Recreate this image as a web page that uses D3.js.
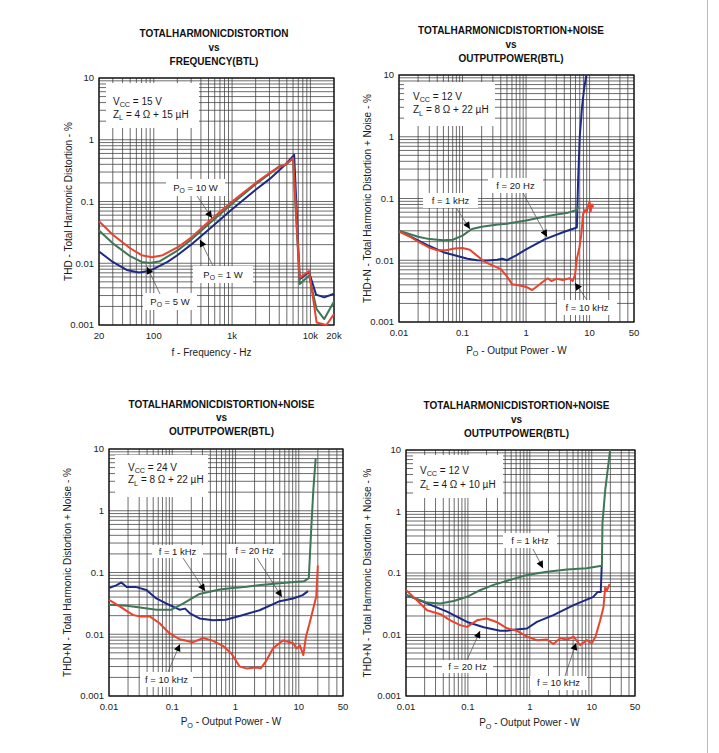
<!DOCTYPE html>
<html>
<head>
<meta charset="utf-8">
<script src="https://cdn.jsdelivr.net/npm/d3@7"></script>
<style>
  body { margin: 0; background: #fff; }
  svg { font-family: "Liberation Sans", Arial, sans-serif; }
</style>
</head>
<body>
<svg id="chart" width="719" height="753"></svg>
<script>
// tick values + labels
var freqTicks = [20, 100, 1000, 10000, 20000];
var freqTickLabels = ["20", "100", "1k", "10k", "20k"];
var powerTicks = [0.01, 0.1, 1, 10, 50];
var powerTickLabels = ["0.01", "0.1", "1", "10", "50"];
var thdTicks = [10, 1, 0.1, 0.01, 0.001];
var thdTickLabels = ["10", "1", "0.1", "0.01", "0.001"];

// panel 1 - THD vs frequency, [Hz, %]
var freqBlue = [[20,0.0155],[30,0.0105],[45,0.0078],[65,0.0071],[85,0.0075],[100,0.0081],[150,0.0105],[200,0.0135],[300,0.02],[500,0.035],[1000,0.075],[2000,0.155],[3000,0.23],[4000,0.32],[5000,0.42],[6200,0.57],[7300,0.0055],[9600,0.0072],[11800,0.0031],[15000,0.0028],[20000,0.0032]];
var freqGreen = [[20,0.034],[30,0.021],[50,0.013],[70,0.0105],[90,0.0101],[120,0.0108],[200,0.016],[300,0.024],[500,0.043],[1000,0.092],[2000,0.19],[3000,0.28],[4000,0.37],[4800,0.39],[6000,0.5],[7300,0.0046],[9600,0.0063],[12000,0.0018],[15000,0.00125],[20000,0.0024]];
var freqRed = [[20,0.048],[30,0.029],[50,0.0175],[70,0.0135],[95,0.0125],[130,0.0135],[200,0.018],[300,0.026],[500,0.047],[1000,0.1],[2000,0.2],[3000,0.29],[4000,0.36],[4800,0.4],[6000,0.5],[7300,0.0058],[9600,0.0075],[12000,0.0011],[16000,0.001],[20000,0.0015]];

// panel 2 - THD+N vs power, Vcc 12 V, 8 ohm, [W, %]
var p2Green = [[0.01,0.030],[0.02,0.024],[0.03,0.022],[0.05,0.021],[0.07,0.0215],[0.1,0.025],[0.14,0.032],[0.2,0.035],[0.36,0.038],[0.5,0.039],[1,0.044],[2,0.051],[3,0.055],[4.6,0.059],[6.3,0.065],[6.6,0.075]];
var p2Blue = [[0.01,0.030],[0.02,0.021],[0.03,0.017],[0.05,0.0135],[0.08,0.0118],[0.12,0.0106],[0.17,0.0100],[0.25,0.0099],[0.35,0.0102],[0.42,0.0106],[0.5,0.0100],[0.7,0.012],[1,0.015],[2,0.022],[4,0.029],[6.3,0.034],[6.6,0.2],[7.0,1],[7.6,3],[8.2,6],[8.9,10]];
var p2Red = [[0.01,0.029],[0.015,0.024],[0.02,0.02],[0.03,0.016],[0.04,0.0145],[0.055,0.0145],[0.075,0.0155],[0.1,0.0158],[0.13,0.0148],[0.17,0.0118],[0.22,0.0095],[0.3,0.0082],[0.4,0.0072],[0.5,0.0055],[0.6,0.0041],[0.8,0.0039],[1.0,0.0037],[1.25,0.0033],[1.5,0.0038],[1.8,0.0044],[2.2,0.0051],[2.5,0.0046],[3,0.005],[3.8,0.0048],[4.8,0.0051],[5.4,0.0046],[5.9,0.0058],[6.3,0.0105],[6.9,0.016],[7.4,0.026],[7.9,0.056],[8.5,0.065],[9.0,0.06],[9.4,0.074],[10,0.088],[10.4,0.062],[10.9,0.08],[11.4,0.072]];

// panel 3 - THD+N vs power, Vcc 24 V, 8 ohm
var p3Blue = [[0.01,0.056],[0.013,0.062],[0.0157,0.069],[0.019,0.058],[0.027,0.058],[0.039,0.052],[0.056,0.038],[0.08,0.0315],[0.116,0.0264],[0.13,0.025],[0.16,0.026],[0.19,0.0218],[0.27,0.018],[0.44,0.0168],[0.7,0.0172],[1.16,0.0198],[2.4,0.0245],[5,0.0343],[8.1,0.038],[11.5,0.043],[14,0.05]];
var p3Green = [[0.01,0.03],[0.019,0.029],[0.031,0.027],[0.056,0.025],[0.097,0.025],[0.15,0.0315],[0.27,0.045],[0.56,0.053],[0.91,0.056],[1.5,0.059],[2.5,0.063],[5,0.067],[12,0.072],[14.4,0.081],[15.7,0.49],[17,2.2],[18.5,7.1]];
var p3Red = [[0.01,0.036],[0.015,0.028],[0.02,0.023],[0.024,0.0206],[0.031,0.0193],[0.044,0.0195],[0.063,0.0151],[0.09,0.0104],[0.13,0.0083],[0.21,0.0074],[0.31,0.0087],[0.44,0.0078],[0.63,0.0065],[0.86,0.0049],[1.16,0.003],[1.48,0.0028],[2.1,0.0029],[2.5,0.0028],[3.0,0.0036],[3.9,0.0059],[5.6,0.0079],[8.1,0.0072],[9.2,0.0059],[10.4,0.0066],[11.8,0.0046],[13,0.0092],[14.6,0.0142],[18.9,0.041],[20,0.13]];

// panel 4 - THD+N vs power, Vcc 12 V, 4 ohm
var p4Green = [[0.01,0.044],[0.0218,0.033],[0.036,0.032],[0.059,0.035],[0.097,0.041],[0.16,0.053],[0.26,0.064],[0.43,0.075],[0.9,0.093],[1.9,0.105],[4,0.114],[8.3,0.119],[13.7,0.13],[14.6,0.13],[14.9,0.64],[16.5,2.2],[19.8,10]];
var p4Blue = [[0.01,0.044],[0.0218,0.032],[0.046,0.0235],[0.097,0.016],[0.18,0.0131],[0.33,0.0115],[0.43,0.0115],[0.55,0.012],[0.9,0.0125],[1.3,0.016],[2.4,0.0207],[5.1,0.030],[10.6,0.041],[12.4,0.049],[14,0.049],[14.5,0.13]];
var p4Red = [[0.01,0.053],[0.015,0.036],[0.0218,0.0248],[0.036,0.0214],[0.052,0.017],[0.075,0.0142],[0.097,0.0133],[0.14,0.017],[0.2,0.0182],[0.29,0.016],[0.43,0.0126],[0.62,0.0115],[0.9,0.0092],[1.3,0.0081],[1.9,0.0083],[2.4,0.007],[3.1,0.0087],[4.0,0.0083],[5.1,0.0092],[6.5,0.0067],[8.3,0.0081],[10,0.0072],[11.5,0.0092],[13.7,0.017],[15.5,0.028],[16.5,0.059],[17.5,0.052],[18.6,0.059],[19.4,0.066]];

var BLUE = "#1d2a82", GREEN = "#3e7656", RED = "#e8432e";

var svg = d3.select("#chart");

svg.append("defs").append("marker")
  .attr("id", "head")
  .attr("viewBox", "0 0 10 10")
  .attr("refX", 10).attr("refY", 5)
  .attr("markerWidth", 8).attr("markerHeight", 7)
  .attr("markerUnits", "userSpaceOnUse")
  .attr("orient", "auto")
  .append("path").attr("d", "M0,0L10,5L0,10Z").attr("fill", "#000");

// page edge
svg.append("line").attr("x1", 707.5).attr("x2", 707.5).attr("y1", 0).attr("y2", 753)
  .attr("stroke", "#b8b8b8").attr("stroke-width", 1);

function logGrid(a, b) {
  var out = [];
  for (var e = Math.floor(Math.log10(a)); e <= Math.ceil(Math.log10(b)); e++) {
    for (var k = 1; k <= 9; k++) {
      var v = +(k * Math.pow(10, e)).toPrecision(6);
      if (v >= a * 0.9999 && v <= b * 1.0001) out.push(v);
    }
  }
  return out;
}

// text with subscripts: parts = ["plain", ["sub"], "plain"...]
function richText(g, x, y, parts, size, anchor) {
  var t = g.append("text").attr("x", x).attr("y", y)
    .attr("font-size", size).attr("fill", "#1a1a1a")
    .attr("text-anchor", anchor || "start");
  var shifted = false;
  parts.forEach(function(p) {
    if (Array.isArray(p)) {
      t.append("tspan").attr("dy", 2.5).attr("font-size", size * 0.72).text(p[0]);
      shifted = true;
    } else {
      var s = t.append("tspan").text(p);
      if (shifted) { s.attr("dy", -2.5); shifted = false; }
    }
  });
  return t;
}

var panels = [
  {
    x0: 99, x1: 334, y0: 78, y1: 325, xDomain: [20, 20000],
    xTicks: freqTicks, xLabels: freqTickLabels,
    title: ["TOTALHARMONICDISTORTION", "vs", "FREQUENCY(BTL)"], tx: 214, ty: [36.5, 50.5, 64.5],
    yTitle: "THD - Total Harmonic Distortion - %", yTitleX: 72, xTitle: ["f - Frequency - Hz"], xTitleY: 356, xTitleDx: -5,
    info: [["V", ["CC"], " = 15 V"], ["Z", ["L"], " = 4 \u03A9 + 15 \u00B5H"]], infoX: 113, infoY: [104.5, 117.5],
    infoBox: [106, 83, 199, 128],
    series: [[freqBlue, BLUE], [freqGreen, GREEN], [freqRed, RED]],
    notes: [
      { parts: ["P", ["O"], " = 10 W"], box: [166, 179, 225, 196], from: [197, 196], tip: [554, 0.054] },
      { parts: ["P", ["O"], " = 1 W"], box: [193, 266, 253, 283], from: [213, 266], tip: [389, 0.024] },
      { parts: ["P", ["O"], " = 5 W"], box: [143, 293, 197, 310], from: [160, 294], tip: [82, 0.0087] }
    ]
  },
  {
    x0: 399, x1: 634, y0: 75, y1: 322, xDomain: [0.01, 50],
    xTicks: powerTicks, xLabels: powerTickLabels,
    title: ["TOTALHARMONICDISTORTION+NOISE", "vs", "OUTPUTPOWER(BTL)"], tx: 511, ty: [33.5, 47.5, 61.5],
    yTitle: "THD+N - Total Harmonic Distortion + Noise - %", yTitleX: 371, xTitleY: 353.5, xTitleDx: 0,
    info: [["V", ["CC"], " = 12 V"], ["Z", ["L"], " = 8 \u03A9 + 22 \u00B5H"]], infoX: 413, infoY: [99.5, 113],
    infoBox: [404, 82, 495, 126],
    series: [[p2Blue, BLUE], [p2Green, GREEN], [p2Red, RED]],
    notes: [
      { parts: ["f = 1 kHz"], box: [423, 193, 478, 208], from: [457, 209], tip: [0.131, 0.032] },
      { parts: ["f = 20 Hz"], box: [488, 178, 543, 193], from: [523, 193], tip: [2.14, 0.0238] },
      { parts: ["f = 10 kHz"], box: [557, 300, 617, 315], from: [587, 300], tip: [5.9, 0.0043] }
    ]
  },
  {
    x0: 109, x1: 343, y0: 449, y1: 696, xDomain: [0.01, 50],
    xTicks: powerTicks, xLabels: powerTickLabels,
    title: ["TOTALHARMONICDISTORTION+NOISE", "vs", "OUTPUTPOWER(BTL)"], tx: 221.5, ty: [407.5, 421, 435],
    yTitle: "THD+N - Total Harmonic Distortion + Noise - %", yTitleX: 71, xTitleY: 725, xTitleDx: 5,
    info: [["V", ["CC"], " = 24 V"], ["Z", ["L"], " = 8 \u03A9 + 22 \u00B5H"]], infoX: 128, infoY: [470.5, 483],
    infoBox: [115, 455, 208, 497],
    series: [[p3Blue, BLUE], [p3Green, GREEN], [p3Red, RED]],
    notes: [
      { parts: ["f = 1 kHz"], box: [152, 545, 203, 558], from: [183, 558], tip: [0.33, 0.050] },
      { parts: ["f = 20 Hz"], box: [227, 544, 282, 558], from: [257, 558], tip: [5.4, 0.040] },
      { parts: ["f = 10 kHz"], box: [140, 672, 193, 687], from: [168, 672], tip: [0.132, 0.0069] }
    ]
  },
  {
    x0: 406, x1: 635, y0: 450, y1: 696, xDomain: [0.01, 50],
    xTicks: powerTicks, xLabels: powerTickLabels,
    title: ["TOTALHARMONICDISTORTION+NOISE", "vs", "OUTPUTPOWER(BTL)"], tx: 516.5, ty: [408.5, 422.5, 436.5],
    yTitle: "THD+N - Total Harmonic Distortion + Noise - %", yTitleX: 371, xTitleY: 726, xTitleDx: 9,
    info: [["V", ["CC"], " = 12 V"], ["Z", ["L"], " = 4 \u03A9 + 10 \u00B5H"]], infoX: 420, infoY: [473.5, 487.5],
    infoBox: [413, 455, 503, 498],
    series: [[p4Blue, BLUE], [p4Green, GREEN], [p4Red, RED]],
    notes: [
      { parts: ["f = 1 kHz"], box: [503, 533, 557, 548], from: [533, 549], tip: [1.63, 0.12] },
      { parts: ["f = 20 Hz"], box: [442, 660, 493, 673], from: [467, 660], tip: [0.157, 0.0114] },
      { parts: ["f = 10 kHz"], box: [530, 676, 587, 690], from: [565, 676], tip: [5.6, 0.0073] }
    ]
  }
];

panels.forEach(function(p) {
  var x = d3.scaleLog().domain(p.xDomain).range([p.x0, p.x1]);
  var y = d3.scaleLog().domain([0.001, 10]).range([p.y1, p.y0]);
  var g = svg.append("g");

  // title
  p.title.forEach(function(s, i) {
    g.append("text").attr("x", p.tx).attr("y", p.ty[i])
      .attr("text-anchor", "middle").attr("font-size", 10).attr("font-weight", "bold")
      .attr("fill", "#111").text(s);
  });

  // grid
  var grid = g.append("g").attr("stroke", "#3c3c3c").attr("stroke-width", 0.75);
  grid.selectAll(".vx").data(logGrid(p.xDomain[0], p.xDomain[1])).enter().append("line")
    .attr("x1", function(d) { return x(d); }).attr("x2", function(d) { return x(d); })
    .attr("y1", p.y0).attr("y2", p.y1);
  grid.selectAll(".hy").data(logGrid(0.001, 10)).enter().append("line")
    .attr("y1", function(d) { return y(d); }).attr("y2", function(d) { return y(d); })
    .attr("x1", p.x0).attr("x2", p.x1);

  // white boxes over grid
  var ib = p.infoBox;
  g.append("rect").attr("x", ib[0]).attr("y", ib[1]).attr("width", ib[2] - ib[0]).attr("height", ib[3] - ib[1]).attr("fill", "#fff");
  p.notes.forEach(function(n) {
    g.append("rect").attr("x", n.box[0]).attr("y", n.box[1])
      .attr("width", n.box[2] - n.box[0]).attr("height", n.box[3] - n.box[1]).attr("fill", "#fff");
  });

  // frame
  g.append("rect").attr("x", p.x0).attr("y", p.y0).attr("width", p.x1 - p.x0).attr("height", p.y1 - p.y0)
    .attr("fill", "none").attr("stroke", "#111").attr("stroke-width", 1.3);

  // curves
  var line = d3.line().x(function(d) { return x(d[0]); }).y(function(d) { return y(d[1]); });
  p.series.forEach(function(s) {
    g.append("path").datum(s[0]).attr("d", line)
      .attr("fill", "none").attr("stroke", s[1]).attr("stroke-width", 2)
      .attr("stroke-linejoin", "round");
  });

  // annotations
  p.notes.forEach(function(n) {
    g.append("line").attr("x1", n.from[0]).attr("y1", n.from[1])
      .attr("x2", x(n.tip[0])).attr("y2", y(n.tip[1]))
      .attr("stroke", "#555").attr("stroke-width", 0.8).attr("marker-end", "url(#head)");
    richText(g, (n.box[0] + n.box[2]) / 2, (n.box[1] + n.box[3]) / 2 + 3.3, n.parts, 9.5, "middle");
  });

  // info text
  p.info.forEach(function(parts, i) { richText(g, p.infoX, p.infoY[i], parts, 10); });

  // tick labels
  p.xTicks.forEach(function(t, i) {
    g.append("text").attr("x", x(t)).attr("y", p.y1 + 13.5).attr("text-anchor", "middle")
      .attr("font-size", 9.5).attr("fill", "#222").text(p.xLabels[i]);
  });
  thdTicks.forEach(function(t, i) {
    g.append("text").attr("x", p.x0 - 5).attr("y", y(t) + 3.3).attr("text-anchor", "end")
      .attr("font-size", 9.5).attr("fill", "#222").text(thdTickLabels[i]);
  });

  // axis titles
  var cx = (p.x0 + p.x1) / 2 + p.xTitleDx;
  if (p.xTitle) {
    g.append("text").attr("x", cx).attr("y", p.xTitleY).attr("text-anchor", "middle")
      .attr("font-size", 10).attr("fill", "#1a1a1a").text(p.xTitle[0]);
  } else {
    richText(g, cx, p.xTitleY, ["P", ["O"], " - Output Power - W"], 10, "middle");
  }
  var cy = (p.y0 + p.y1) / 2;
  g.append("text").attr("transform", "translate(" + p.yTitleX + "," + cy + ") rotate(-90)")
    .attr("text-anchor", "middle").attr("font-size", 10).attr("fill", "#1a1a1a").text(p.yTitle);
});
</script>
</body>
</html>
